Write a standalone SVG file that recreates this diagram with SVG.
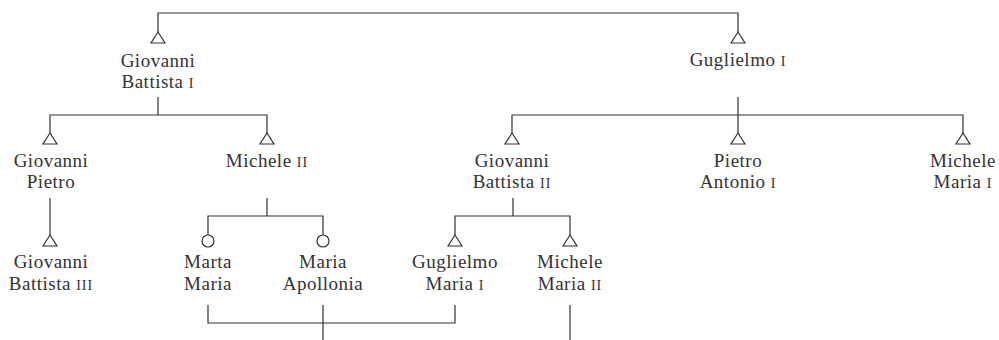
<svg xmlns="http://www.w3.org/2000/svg" width="999" height="340" viewBox="0 0 999 340">
<defs>
<style>
.l{stroke:#333;stroke-width:1.2;fill:none}
.m{stroke:#333;stroke-width:1.2;fill:#fff}
text{font-family:"Liberation Serif","DejaVu Serif",serif;font-size:19px;fill:#333;text-anchor:middle;letter-spacing:0.5px}
.sc{font-size:14px;letter-spacing:1px}
</style>
<path id="tri" d="M0,0 L7,11 L-7,11 Z" class="m"/>
</defs>
<rect width="999" height="340" fill="#fff"/>
<g id="connectors">
<path class="l" d="M158,32 V13 H738 V32"/>
<path class="l" d="M158,97 V115 M50,133 V115 H267 V133"/>
<path class="l" d="M738,97 V133 M512,133 V115 H963 V133"/>
<path class="l" d="M50,198 V235"/>
<path class="l" d="M267,198 V216 M208,235 V216 H323 V235"/>
<path class="l" d="M513,198 V216 M455,235 V216 H570 V235"/>
<path class="l" d="M208,305 V323 H455 V305"/>
<path class="l" d="M323,305 V340"/>
<path class="l" d="M570,305 V340"/>
</g>
<g id="n-gb1"><use href="#tri" x="158" y="32"/><text x="158" y="67">Giovanni</text><text x="158" y="88">Battista <tspan class="sc">I</tspan></text></g>
<g id="n-g1"><use href="#tri" x="738" y="32"/><text x="738" y="66">Guglielmo <tspan class="sc">I</tspan></text></g>
<g id="n-gp"><use href="#tri" x="50" y="133"/><text x="51" y="167">Giovanni</text><text x="51" y="188">Pietro</text></g>
<g id="n-m2"><use href="#tri" x="267" y="133"/><text x="267" y="167">Michele <tspan class="sc">II</tspan></text></g>
<g id="n-gb2"><use href="#tri" x="512" y="133"/><text x="512" y="167">Giovanni</text><text x="512" y="188">Battista <tspan class="sc">II</tspan></text></g>
<g id="n-pa1"><use href="#tri" x="738" y="133"/><text x="738" y="167">Pietro</text><text x="738" y="188">Antonio <tspan class="sc">I</tspan></text></g>
<g id="n-mm1"><use href="#tri" x="963" y="133"/><text x="963" y="167">Michele</text><text x="963" y="188">Maria <tspan class="sc">I</tspan></text></g>
<g id="n-gb3"><use href="#tri" x="50" y="235"/><text x="51" y="268">Giovanni</text><text x="51" y="290">Battista <tspan class="sc">III</tspan></text></g>
<g id="n-mtm"><circle cx="208" cy="241" r="6" class="m"/><text x="208" y="268">Marta</text><text x="208" y="290">Maria</text></g>
<g id="n-map"><circle cx="323" cy="241" r="6" class="m"/><text x="323" y="268">Maria</text><text x="323" y="290">Apollonia</text></g>
<g id="n-gm1"><use href="#tri" x="455" y="235"/><text x="455" y="268">Guglielmo</text><text x="455" y="290">Maria <tspan class="sc">I</tspan></text></g>
<g id="n-mm2"><use href="#tri" x="570" y="235"/><text x="570" y="268">Michele</text><text x="570" y="290">Maria <tspan class="sc">II</tspan></text></g>
</svg>
